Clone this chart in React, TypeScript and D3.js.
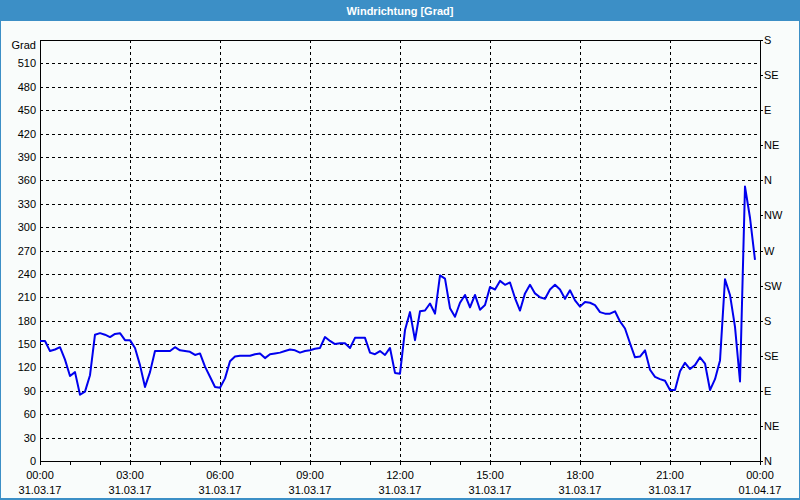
import React from "react";
import * as d3 from "d3";

const TITLE = "Windrichtung [Grad]";
const Y_UNIT = "Grad";
const START = new Date(2017, 2, 31, 0, 0);
const STEP_MIN = 10;
const values: number[] = [
  154, 154, 141, 143, 146, 130, 109, 114, 85, 89,
  110, 162, 164, 162, 159, 163, 164, 155, 155, 145,
  123, 95, 114, 141, 141, 141, 141, 146, 142, 141,
  140, 136, 138, 121, 108, 95, 94, 106, 128, 134,
  135, 135, 135, 137, 138, 132, 137, 138, 139, 141,
  143, 142, 139, 141, 142, 144, 145, 159, 154, 150,
  151, 151, 145, 158, 158, 158, 139, 137, 141, 136,
  145, 113, 112, 168, 191, 155, 192, 193, 202, 189,
  238, 234, 196, 185, 203, 213, 197, 213, 194, 200,
  223, 220, 231, 226, 229, 209, 193, 215, 226, 215,
  210, 208, 220, 226, 220, 208, 219, 206, 198, 204,
  203, 200, 191, 189, 189, 192, 179, 170, 151, 133,
  134, 142, 117, 108, 105, 103, 91, 91, 115, 126,
  118, 123, 133, 125, 91, 105, 129, 233, 213, 172,
  102, 352, 312, 258,
];
const leftTicks = [0, 30, 60, 90, 120, 150, 180, 210, 240, 270, 300, 330, 360, 390, 420, 450, 480, 510];
const rightTickValues = [0, 45, 90, 135, 180, 225, 270, 315, 360, 405, 450, 495, 540];
const rightTickLabels = ["N", "NE", "E", "SE", "S", "SW", "W", "NW", "N", "NE", "E", "SE", "S"];
const xTickTimes = ["00:00", "03:00", "06:00", "09:00", "12:00", "15:00", "18:00", "21:00", "00:00"];
const xTickDates = ["31.03.17", "31.03.17", "31.03.17", "31.03.17", "31.03.17", "31.03.17", "31.03.17", "31.03.17", "01.04.17"];

const W = 800, H = 500;
const L = 40, R = 760, T = 40, B = 461;
const FONT = "'Liberation Sans', Arial, sans-serif";

export default function App() {
  const end = d3.timeHour.offset(START, 24);
  const x = d3.scaleTime().domain([START, end]).range([L, R]);
  const y = d3.scaleLinear().domain([0, 540]).range([B, T]);
  const pts = values.map((v, i) => ({ t: d3.timeMinute.offset(START, i * STEP_MIN), v }));
  const line = d3.line<{ t: Date; v: number }>().x(d => x(d.t)).y(d => y(d.v));
  const majors = xTickTimes.map((_, i) => d3.timeHour.offset(START, i * 3));
  const hours = d3.range(0, 25).map(h => d3.timeHour.offset(START, h));

  return (
    <div style={{ position: "fixed", left: 0, top: 0 }}>
      <svg width={W} height={H} style={{ display: "block" }}>
        <rect x={0} y={0} width={W} height={H} fill="#3c8fc6" />
        <rect x={1} y={21} width={W - 2} height={H - 23} fill="#f9fcfb" />
        <text x={400} y={14.5} textAnchor="middle" fill="#ffffff" fontFamily={FONT} fontWeight="bold" fontSize={11}>{TITLE}</text>

        {/* grid */}
        {leftTicks.filter(v => v > 0).map(v => (
          <line key={"h" + v} x1={L} x2={R} y1={Math.round(y(v)) + 0.5} y2={Math.round(y(v)) + 0.5} stroke="#000" strokeDasharray="3,3" strokeWidth={1} />
        ))}
        {majors.slice(1, -1).map((d, i) => (
          <line key={"v" + i} x1={Math.round(x(d)) + 0.5} x2={Math.round(x(d)) + 0.5} y1={T} y2={B} stroke="#000" strokeDasharray="3,3" strokeWidth={1} />
        ))}

        {/* frame */}
        <rect x={L + 0.5} y={T + 0.5} width={R - L} height={B - T} fill="none" stroke="#000" strokeWidth={1} />

        {/* x ticks */}
        {hours.map((d, i) => (
          <line key={"xt" + i} x1={Math.round(x(d)) + 0.5} x2={Math.round(x(d)) + 0.5} y1={B} y2={B + 4} stroke="#000" />
        ))}
        {majors.map((d, i) => (
          <g key={"xl" + i} fontFamily={FONT} fontSize={11} fill="#000" textAnchor="middle">
            <text x={x(d)} y={479}>{xTickTimes[i]}</text>
            <text x={x(d)} y={494}>{xTickDates[i]}</text>
          </g>
        ))}

        {/* left labels */}
        <text x={36} y={49} textAnchor="end" fontFamily={FONT} fontSize={11}>{Y_UNIT}</text>
        {leftTicks.map(v => (
          <text key={"yl" + v} x={36} y={y(v) + 4} textAnchor="end" fontFamily={FONT} fontSize={11}>{v}</text>
        ))}

        {/* right ticks */}
        {rightTickValues.map((v, i) => (
          <g key={"yr" + i}>
            <line x1={R} x2={R + 3} y1={Math.round(y(v)) + 0.5} y2={Math.round(y(v)) + 0.5} stroke="#000" />
            <text x={764} y={y(v) + 4} fontFamily={FONT} fontSize={11}>{rightTickLabels[i]}</text>
          </g>
        ))}

        <path d={line(pts) || ""} fill="none" stroke="#0000ee" strokeWidth={2} strokeLinejoin="round" />
      </svg>
    </div>
  );
}
